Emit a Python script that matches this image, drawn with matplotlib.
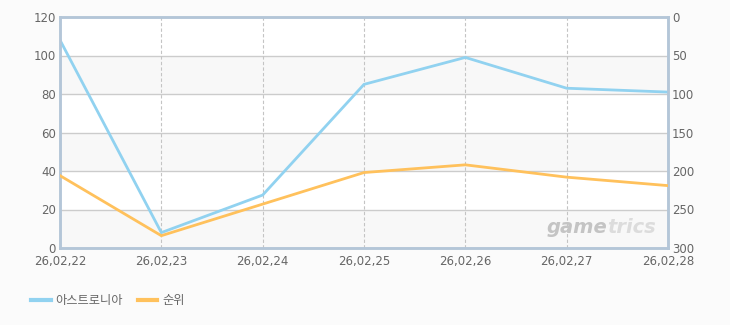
import matplotlib
matplotlib.use("Agg")
import matplotlib.pyplot as plt
from matplotlib.lines import Line2D

plt.rcParams['font.family'] = ['Noto Sans CJK KR', 'DejaVu Sans']

dates = ["26,02,22", "26,02,23", "26,02,24", "26,02,25", "26,02,26", "26,02,27", "26,02,28"]
game_values = [108, 8, 27.5, 85, 99, 83, 81]
rank_values = [206, 284, 243, 202, 192, 208, 219]
series_names = ["아스트로니아", "순위"]
left_ticks = [0, 20, 40, 60, 80, 100, 120]
right_ticks = [0, 50, 100, 150, 200, 250, 300]

blue = "#91d2f0"
orange = "#ffc15c"
spine_c = "#b4c6d8"
text_c = "#666666"

fig = plt.figure(figsize=(7.3, 3.25), dpi=100, facecolor="#fbfbfb")
W, H = 730, 325
x0, x1, y0, y1 = 60, 668, 17, 248
ax = fig.add_axes([x0 / W, 1 - y1 / H, (x1 - x0) / W, (y1 - y0) / H])
ax.set_facecolor("white")

x = list(range(len(dates)))
ax.set_xlim(0, len(dates) - 1)
ax.set_ylim(0, 120)

# alternating bands
for i in range(0, len(left_ticks) - 1, 2):
    ax.axhspan(left_ticks[i], left_ticks[i + 1], color="#f8f8f8", zorder=0, lw=0)

for v in left_ticks[1:-1]:
    ax.axhline(v, color="#cccccc", lw=1, zorder=1)
for xi in x[1:-1]:
    ax.axvline(xi, color="#c4c4c4", lw=0.8, ls=(0, (3, 2)), zorder=1)

ax.plot(x, game_values, color=blue, lw=2, zorder=3, solid_joinstyle="miter")

ax2 = ax.twinx()
ax2.set_ylim(300, 0)
ax2.plot(x, rank_values, color=orange, lw=2, zorder=3, solid_joinstyle="miter")

for a in (ax, ax2):
    for s in a.spines.values():
        s.set_color(spine_c)
        s.set_linewidth(1.8)
    a.tick_params(length=0, colors=text_c, labelsize=8.5)

ax.set_yticks(left_ticks)
ax.set_xticks(x)
ax.set_xticklabels(dates)
ax.tick_params(axis="y", pad=3)
ax.tick_params(axis="x", pad=5)
ax2.set_yticks(right_ticks)
ax2.tick_params(axis="y", pad=3)

for lbl in ax.get_xticklabels() + ax.get_yticklabels() + ax2.get_yticklabels():
    lbl.set_family(['DejaVu Sans'])

# watermark
ax.text(0.9, 0.09, "game", transform=ax.transAxes, ha="right", va="center",
        fontsize=14, fontweight="bold", style="italic", color="#c4c4c4", zorder=2,
        family=["DejaVu Sans"])
ax.text(0.9, 0.09, "trics", transform=ax.transAxes, ha="left", va="center",
        fontsize=14, fontweight="bold", style="italic", color="#dcdcdc", zorder=2,
        family=["DejaVu Sans"])

handles = [Line2D([], [], color=blue, lw=3), Line2D([], [], color=orange, lw=3)]
fig.legend(handles, series_names, loc="lower left", bbox_to_anchor=(20 / W, 1 - 318 / H),
           ncol=2, frameon=False, fontsize=8.8, handlelength=1.6, handletextpad=0.4,
           columnspacing=1.2, labelcolor=text_c)

fig.savefig("out.png", dpi=100, facecolor=fig.get_facecolor())
